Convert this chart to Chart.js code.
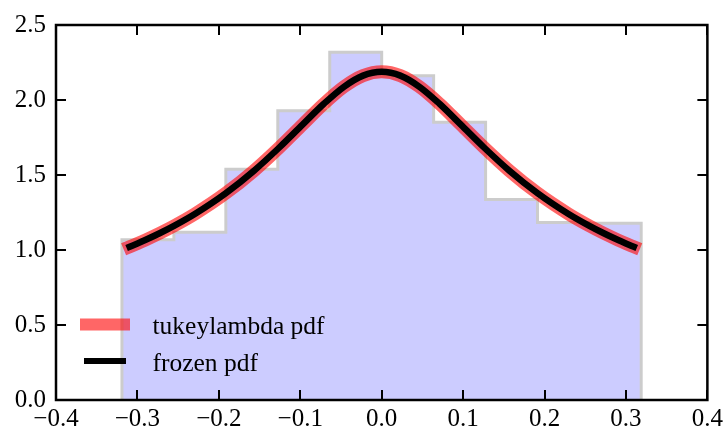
<!DOCTYPE html>
<html>
<head>
<meta charset="utf-8">
<script src="https://cdn.jsdelivr.net/npm/chart.js@4/dist/chart.umd.min.js"></script>
<style>
  html, body { margin: 0; padding: 0; background: #ffffff; }
  #wrap { width: 727px; height: 434px; }
</style>
</head>
<body>
<div id="wrap"><canvas id="c" width="727" height="434"></canvas></div>
<script>
// ---- data ----
const binEdges = [-0.319, -0.2552, -0.1914, -0.1276, -0.0638, 0.0, 0.0638, 0.1276, 0.1914, 0.2552, 0.3187];
const binHeights = [1.069, 1.118, 1.538, 1.929, 2.318, 2.162, 1.851, 1.336, 1.184, 1.178];

const pdfX = [-0.3096, -0.2999, -0.2904, -0.2721, -0.2545, -0.2295, -0.1913, -0.1568, -0.1257, -0.0972, -0.0710, -0.0464, -0.0229, 0.0,
              0.0229, 0.0464, 0.0710, 0.0972, 0.1257, 0.1568, 0.1913, 0.2295, 0.2545, 0.2721, 0.2904, 0.2999, 0.3096];
const pdfY = [1.0216, 1.0437, 1.0664, 1.1133, 1.1625, 1.2401, 1.3793, 1.5287, 1.6834, 1.8357, 1.9749, 2.0881, 2.1626, 2.1879,
              2.1626, 2.0881, 1.9749, 1.8357, 1.6834, 1.5287, 1.3793, 1.2401, 1.1625, 1.1133, 1.0664, 1.0437, 1.0216];

const xTicks = [-0.4, -0.3, -0.2, -0.1, 0.0, 0.1, 0.2, 0.3, 0.4];
const yTicks = [0.0, 0.5, 1.0, 1.5, 2.0, 2.5];
const seriesLabels = ['tukeylambda pdf', 'frozen pdf'];

// ---- build library tables ----
const histPoints = [{x: binEdges[0], y: 0}];
for (let i = 0; i < binHeights.length; i++) histPoints.push({x: binEdges[i], y: binHeights[i]});
histPoints.push({x: binEdges[binEdges.length - 1], y: binHeights[binHeights.length - 1]});
histPoints.push({x: binEdges[binEdges.length - 1], y: 0});
const pdfPoints = pdfX.map((x, i) => ({x: x, y: pdfY[i]}));

const FONT = '"Liberation Serif", "Times New Roman", serif';
const FS = 25;
const LFS = 25.5;

function fmt(v) {
  if (Math.abs(v) < 1e-9) v = 0;
  return v.toFixed(1).replace('-', '\u2212');
}

const framePlugin = {
  id: 'frame',
  afterDatasetsDraw(chart) {
    const ctx = chart.ctx, a = chart.chartArea;
    const xs = chart.scales.x, ys = chart.scales.y;
    ctx.save();
    ctx.strokeStyle = '#000';
    ctx.lineWidth = 2;
    const L = 10;
    ctx.beginPath();
    xTicks.forEach(v => {
      const px = Math.round(xs.getPixelForValue(v));
      ctx.moveTo(px, a.bottom); ctx.lineTo(px, a.bottom - L);
      ctx.moveTo(px, a.top); ctx.lineTo(px, a.top + L);
    });
    yTicks.forEach(v => {
      const py = Math.round(ys.getPixelForValue(v));
      ctx.moveTo(a.left, py); ctx.lineTo(a.left + L, py);
      ctx.moveTo(a.right, py); ctx.lineTo(a.right - L, py);
    });
    ctx.stroke();
    ctx.lineWidth = 2.5;
    ctx.strokeRect(a.left, a.top, a.right - a.left, a.bottom - a.top);
    ctx.restore();
  }
};

const legendPlugin = {
  id: 'innerLegend',
  afterDraw(chart) {
    const ctx = chart.ctx;
    const rows = [324.5, 361];
    const extents = [[80, 130], [84, 126]];
    const widths = [12, 6];
    ctx.save();
    seriesLabels.forEach((lab, i) => {
      const d = chart.data.datasets.find(ds => ds.label === lab);
      const y = rows[i];
      ctx.strokeStyle = d.borderColor;
      ctx.lineWidth = widths[i];
      ctx.lineCap = 'butt';
      ctx.beginPath();
      ctx.moveTo(extents[i][0], y); ctx.lineTo(extents[i][1], y);
      ctx.stroke();
      ctx.fillStyle = '#000';
      ctx.font = LFS + 'px ' + FONT;
      ctx.textBaseline = 'alphabetic';
      ctx.textAlign = 'left';
      ctx.fillText(lab, 152.5, y + 9.5);
    });
    ctx.restore();
  }
};

new Chart(document.getElementById('c'), {
  type: 'line',
  data: {
    datasets: [
      {
        label: seriesLabels[1],
        data: pdfPoints,
        borderColor: '#000000',
        borderWidth: 6.5,
        borderCapStyle: 'square',
        borderJoinStyle: 'round',
        cubicInterpolationMode: 'monotone',
        pointRadius: 0,
        fill: false,
        order: 0
      },
      {
        label: seriesLabels[0],
        data: pdfPoints,
        borderColor: 'rgba(255,0,0,0.6)',
        borderWidth: 13,
        borderCapStyle: 'square',
        borderJoinStyle: 'round',
        cubicInterpolationMode: 'monotone',
        pointRadius: 0,
        fill: false,
        order: 1
      },
      {
        label: '',
        data: histPoints,
        stepped: true,
        borderColor: '#cccccc',
        borderWidth: 3,
        backgroundColor: 'rgba(0,0,255,0.2)',
        fill: 'origin',
        pointRadius: 0,
        order: 2
      }
    ]
  },
  options: {
    responsive: false,
    devicePixelRatio: 1,
    animation: false,
    layout: { padding: { top: 25, right: 19, left: 0, bottom: 0 } },
    plugins: { legend: { display: false }, tooltip: { enabled: false } },
    scales: {
      x: {
        type: 'linear',
        min: -0.4, max: 0.4,
        afterBuildTicks: s => { s.ticks = xTicks.map(v => ({value: v})); },
        afterFit: s => { s.height = 34; },
        grid: { display: false, drawTicks: false },
        border: { display: false },
        ticks: { color: '#000', padding: 4, maxRotation: 0, autoSkip: false,
                 font: { family: FONT, size: FS }, callback: v => fmt(v) }
      },
      y: {
        type: 'linear',
        min: 0, max: 2.5,
        afterBuildTicks: s => { s.ticks = yTicks.map(v => ({value: v})); },
        afterFit: s => { s.width = 56; },
        grid: { display: false, drawTicks: false },
        border: { display: false },
        ticks: { color: '#000', padding: 10, autoSkip: false,
                 font: { family: FONT, size: FS }, callback: v => fmt(v) }
      }
    }
  },
  plugins: [framePlugin, legendPlugin]
});
</script>
</body>
</html>
